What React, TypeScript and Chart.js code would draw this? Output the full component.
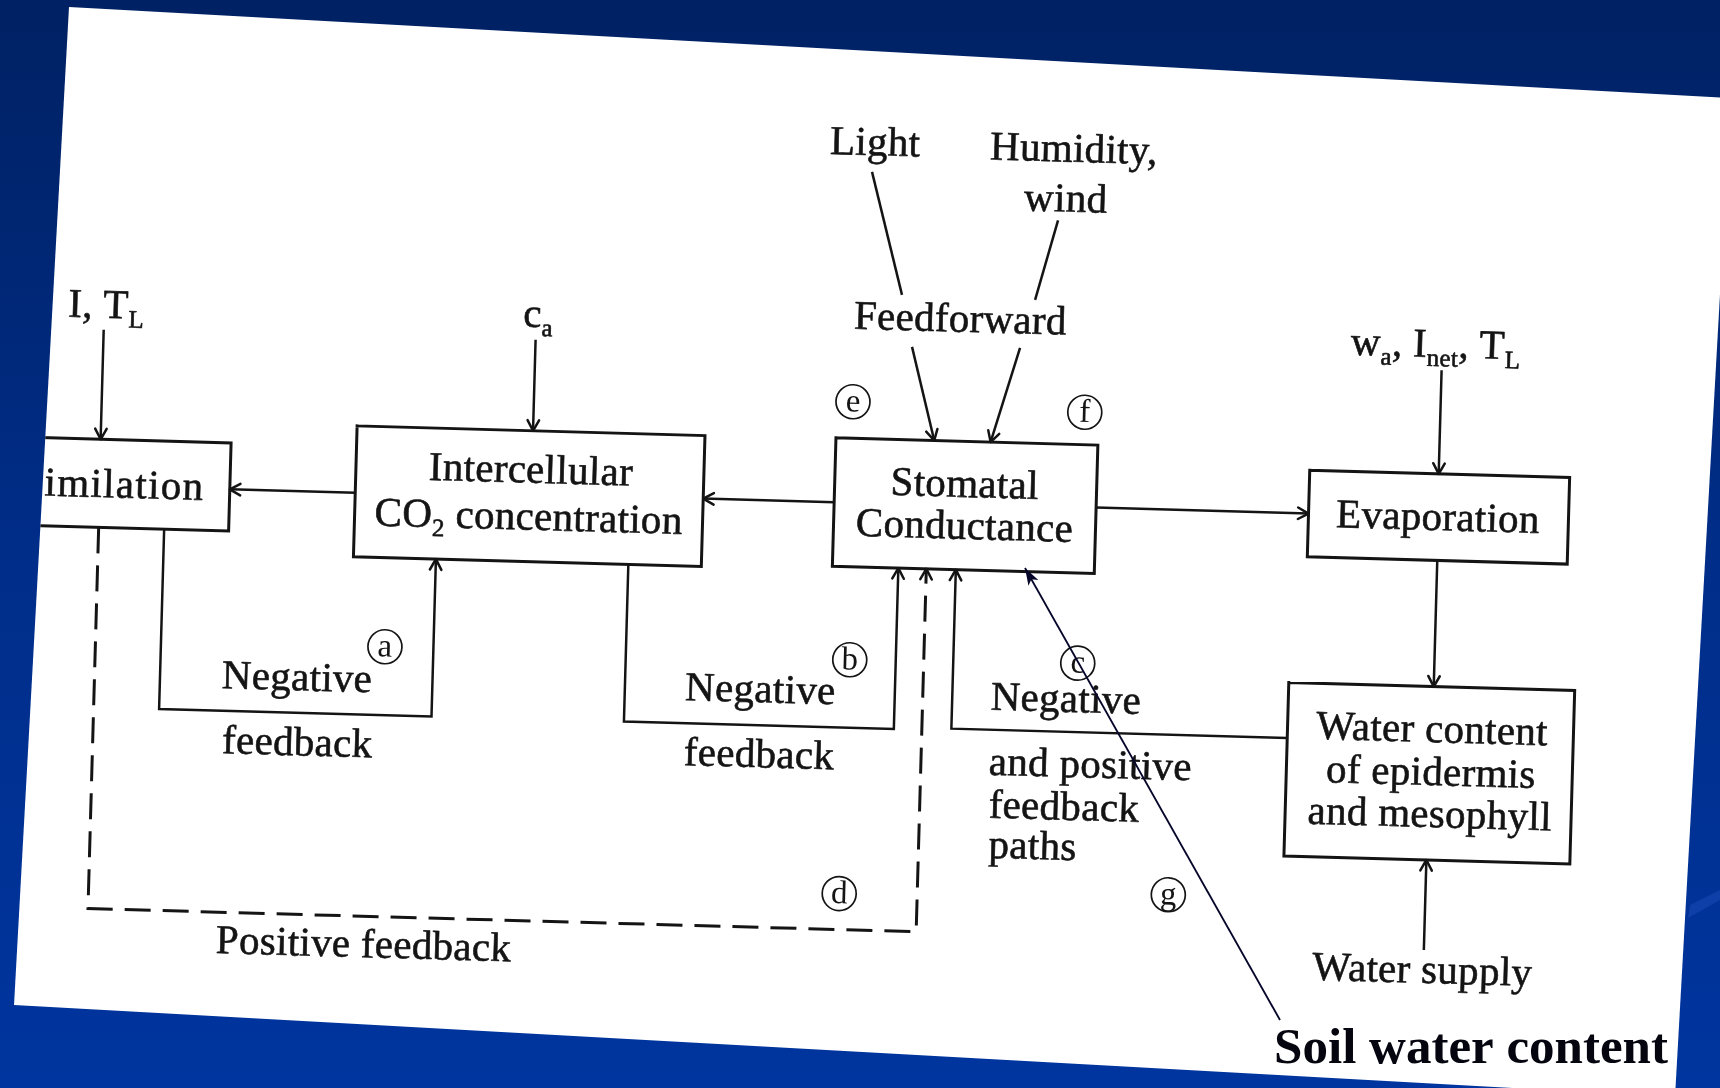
import React, { useEffect, useRef } from "react";
import { Chart, registerables } from "chart.js";

Chart.register(...registerables);

// ---------- DATA (diagram units, unrotated scan frame) ----------
const boxNames = ["Assimilation", "Intercellular", "Stomatal", "Evaporation", "WaterContent"];
const boxLeft = [-80, 354, 833, 1307.5, 1292.5];
const boxRight = [228.5, 702, 1095, 1567.5, 1578.5];
const boxTop = [460.6, 440, 438.5, 457.7, 670.5];
const boxBottom = [548.7, 571, 567, 544.3, 844];

const linkNames = [
  "I,TL->Assimilation", "ca->Intercellular", "Intercellular->Assimilation", "Stomatal->Intercellular",
  "Stomatal->Evaporation", "inputs->Evaporation", "Evaporation->Water", "WaterSupply->Water",
  "loop a", "loop b", "loop c", "loop d", "Light", "Humidity", "Feedforward 1", "Feedforward 2",
];
const linkX = [
  [98, 98], [530, 530], [354, 228.5], [833, 702],
  [1095, 1307.5], [1436.5, 1436.5], [1437.5, 1437.5], [1435, 1435],
  [164, 164, 436.5, 436.5], [629, 629, 899, 899], [1292.5, 956.5, 956.5], [98.5, 98.5, 927, 927],
  [861.6, 895], [1048.9, 1028.2], [906.5, 931.3], [1014.5, 987.7],
];
const linkY = [
  [351, 460.6], [349, 440], [507, 507], [503, 503],
  [501, 501], [354, 457.7], [544.3, 670.5], [934, 844],
  [548.7, 728.5, 728.5, 571], [571, 728, 728, 567], [726, 726, 567], [548.7, 930, 930, 567],
  [171.7, 293.8], [215, 295.1], [345.5, 438.5], [343.5, 438.5],
];
const linkArrow = [true, true, true, true, true, true, true, true, true, true, true, true, false, false, true, true];
const linkDashed = [false, false, false, false, false, false, false, false, false, false, false, true, false, false, false, false];

const circleLetters = ["a", "b", "c", "d", "e", "f", "g"];
const circleX = [388, 853, 1081, 849, 849, 1081, 1178];
const circleY = [660, 660, 657, 894, 402, 406, 886];

const labelTexts = [
  "Assimilation", "Intercellular", "CO_{2} concentration", "Stomatal", "Conductance", "Evaporation",
  "Water content", "of epidermis", "and mesophyll", "I, T_{L}", "c_{a}", "Light", "Humidity,", "wind",
  "Feedforward", "w_{a}, I_{net}, T_{L}", "Water supply",
  "Negative", "feedback", "Negative", "feedback",
  "Negative", "and positive", "feedback", "paths", "Positive feedback",
];
const labelX = [
  203, 529, 528, 963, 964, 1437,
  1437, 1437, 1437, 62, 517, 864, 979, 1056,
  954, 1345, 1434,
  301, 303, 764.5, 765,
  995, 995, 996, 997, 375,
];
const labelY = [
  518.4, 492, 539, 494, 536, 514,
  726, 769, 811, 339, 336, 155, 156, 206,
  329, 341, 967,
  706, 771, 705, 770,
  706, 771, 814, 854, 971,
];
const labelAlign = [
  "right", "center", "center", "center", "center", "center",
  "center", "center", "center", "left", "left", "center", "left", "center",
  "center", "left", "center",
  "center", "center", "center", "center",
  "left", "left", "left", "left", "center",
];
const labelSpacing = [
  1.3, 0.3, 0.3, 0.3, 0.3, 0.3,
  0.3, 0.3, 0.3, 0.3, 0.3, 0.3, 0.3, 0.3,
  0.3, 0.3, 0.3,
  0.3, 0.3, 0.3, 0.3,
  0.3, 0.3, 0.3, 0.3, 0.3,
];

// page (screen) frame
const paperX = [69, 1731, 1675, 14];
const paperY = [7, 98, 1097, 1005];
const scanRotation = 0.028; // radians
const rotCenterX = 860;
const rotCenterY = 544;

// overlay annotation (screen frame)
const soilLabel = "Soil water content";
const soilLabelX = 1471;
const soilLabelY = 1063;
const soilArrowX = [1280, 1025];
const soilArrowY = [1020, 568];

// ---------- helpers ----------
const SCAN_FONT = '"Liberation Serif", "Times New Roman", serif';
const INK = "#141414";

function parseRich(s: string) {
  const parts: { t: string; sub: boolean }[] = [];
  const re = /_\{([^}]*)\}/g;
  let last = 0;
  let m: RegExpExecArray | null;
  while ((m = re.exec(s))) {
    if (m.index > last) parts.push({ t: s.slice(last, m.index), sub: false });
    parts.push({ t: m[1], sub: true });
    last = re.lastIndex;
  }
  if (last < s.length) parts.push({ t: s.slice(last), sub: false });
  return parts;
}

function drawRich(
  ctx: CanvasRenderingContext2D,
  s: string,
  x: number,
  y: number,
  align: string,
  size: number,
  spacing: number
) {
  const parts = parseRich(s);
  const fontFor = (sub: boolean) => `${sub ? Math.round(size * 0.62) : size}px ${SCAN_FONT}`;
  (ctx as any).letterSpacing = `${spacing}px`;
  const widths = parts.map((p) => {
    ctx.font = fontFor(p.sub);
    return ctx.measureText(p.t).width;
  });
  const total = widths.reduce((a, b) => a + b, 0);
  let cur = align === "center" ? x - total / 2 : align === "right" ? x - total : x;
  ctx.textAlign = "left";
  ctx.textBaseline = "alphabetic";
  ctx.lineWidth = 0.6;
  ctx.lineJoin = "round";
  parts.forEach((p, i) => {
    ctx.font = fontFor(p.sub);
    const yy = p.sub ? y + size * 0.22 : y;
    ctx.fillText(p.t, cur, yy);
    ctx.strokeText(p.t, cur, yy);
    cur += widths[i];
  });
  (ctx as any).letterSpacing = "0px";
}

function openArrow(ctx: CanvasRenderingContext2D, x0: number, y0: number, x1: number, y1: number) {
  const a = Math.atan2(y1 - y0, x1 - x0);
  const len = 12;
  const half = 0.5;
  ctx.beginPath();
  ctx.moveTo(x1 - len * Math.cos(a - half), y1 - len * Math.sin(a - half));
  ctx.lineTo(x1, y1);
  ctx.lineTo(x1 - len * Math.cos(a + half), y1 - len * Math.sin(a + half));
  ctx.stroke();
}

const diagramPlugin = {
  id: "diagram",
  beforeDraw(chart: any) {
    const { ctx } = chart;
    const xs = chart.scales.x;
    const ys = chart.scales.y;
    ctx.save();
    const g = ctx.createLinearGradient(0, 0, 0, chart.height);
    g.addColorStop(0, "#002163");
    g.addColorStop(0.5, "#002d88");
    g.addColorStop(1, "#00359f");
    ctx.fillStyle = g;
    ctx.fillRect(0, 0, chart.width, chart.height);
    // subtle lighter streak on the right
    ctx.fillStyle = "rgba(40,90,200,0.35)";
    ctx.beginPath();
    ctx.moveTo(xs.getPixelForValue(1690), ys.getPixelForValue(905));
    ctx.lineTo(xs.getPixelForValue(1720), ys.getPixelForValue(890));
    ctx.lineTo(xs.getPixelForValue(1720), ys.getPixelForValue(900));
    ctx.lineTo(xs.getPixelForValue(1688), ys.getPixelForValue(918));
    ctx.closePath();
    ctx.fill();
    // paper
    ctx.beginPath();
    paperX.forEach((px, i) => {
      const X = xs.getPixelForValue(px);
      const Y = ys.getPixelForValue(paperY[i]);
      if (i === 0) ctx.moveTo(X, Y);
      else ctx.lineTo(X, Y);
    });
    ctx.closePath();
    ctx.fillStyle = "#ffffff";
    ctx.fill();
    ctx.restore();
  },
  beforeDatasetsDraw(chart: any) {
    const { ctx } = chart;
    const xs = chart.scales.x;
    const ys = chart.scales.y;
    ctx.save();
    ctx.beginPath();
    paperX.forEach((px, i) => {
      const X = xs.getPixelForValue(px);
      const Y = ys.getPixelForValue(paperY[i]);
      if (i === 0) ctx.moveTo(X, Y);
      else ctx.lineTo(X, Y);
    });
    ctx.closePath();
    ctx.clip();
    const cx = xs.getPixelForValue(rotCenterX);
    const cy = ys.getPixelForValue(rotCenterY);
    ctx.translate(cx, cy);
    ctx.rotate(scanRotation);
    ctx.translate(-cx, -cy);
  },
  afterDatasetsDraw(chart: any) {
    const { ctx } = chart;
    const xs = chart.scales.x;
    const ys = chart.scales.y;
    const px = (v: number) => xs.getPixelForValue(v);
    const py = (v: number) => ys.getPixelForValue(v);
    // arrowheads
    ctx.strokeStyle = INK;
    ctx.lineWidth = 2.5;
    ctx.setLineDash([]);
    ctx.lineCap = "round";
    ctx.lineJoin = "round";
    linkX.forEach((xsArr, i) => {
      if (!linkArrow[i]) return;
      const n = xsArr.length;
      openArrow(ctx, px(xsArr[n - 2]), py(linkY[i][n - 2]), px(xsArr[n - 1]), py(linkY[i][n - 1]));
    });
    // circled letters
    circleLetters.forEach((c, i) => {
      const X = px(circleX[i]);
      const Y = py(circleY[i]);
      ctx.strokeStyle = INK;
      ctx.lineWidth = 1.7;
      ctx.beginPath();
      ctx.arc(X, Y, 17, 0, Math.PI * 2);
      ctx.stroke();
      ctx.fillStyle = INK;
      ctx.font = `33px ${SCAN_FONT}`;
      ctx.textAlign = "center";
      ctx.textBaseline = "middle";
      ctx.fillText(c, X, Y + 1);
    });
    // labels
    ctx.fillStyle = INK;
    ctx.strokeStyle = INK;
    labelTexts.forEach((t, i) => {
      drawRich(ctx, t, px(labelX[i]), py(labelY[i]), labelAlign[i], 41, labelSpacing[i]);
    });
    ctx.restore();

    // overlay annotation (not part of the scan)
    ctx.save();
    const x0 = px(soilArrowX[0]);
    const y0 = py(soilArrowY[0]);
    const x1 = px(soilArrowX[1]);
    const y1 = py(soilArrowY[1]);
    ctx.strokeStyle = "#06062a";
    ctx.fillStyle = "#06062a";
    ctx.lineWidth = 1.8;
    ctx.beginPath();
    ctx.moveTo(x0, y0);
    ctx.lineTo(x1, y1);
    ctx.stroke();
    const a = Math.atan2(y1 - y0, x1 - x0);
    ctx.beginPath();
    ctx.moveTo(x1, y1);
    ctx.lineTo(x1 - 18 * Math.cos(a - 0.32), y1 - 18 * Math.sin(a - 0.32));
    ctx.lineTo(x1 - 13 * Math.cos(a), y1 - 13 * Math.sin(a));
    ctx.lineTo(x1 - 18 * Math.cos(a + 0.32), y1 - 18 * Math.sin(a + 0.32));
    ctx.closePath();
    ctx.fill();
    ctx.fillStyle = "#05050f";
    ctx.font = `bold 51px ${SCAN_FONT}`;
    ctx.textAlign = "center";
    ctx.textBaseline = "alphabetic";
    ctx.fillText(soilLabel, px(soilLabelX), py(soilLabelY));
    ctx.restore();
  },
};

export default function App() {
  const canvasRef = useRef<HTMLCanvasElement | null>(null);

  useEffect(() => {
    document.body.style.margin = "0";
    const canvas = canvasRef.current;
    if (!canvas) return;

    const boxDatasets = boxNames.map((name, i) => ({
      label: name,
      data: [
        { x: boxLeft[i], y: boxTop[i] },
        { x: boxRight[i], y: boxTop[i] },
        { x: boxRight[i], y: boxBottom[i] },
        { x: boxLeft[i], y: boxBottom[i] },
        { x: boxLeft[i], y: boxTop[i] },
      ],
      showLine: true,
      borderColor: INK,
      borderWidth: 3,
      pointRadius: 0,
      fill: false,
      tension: 0,
      clip: false,
      borderJoinStyle: "miter",
      borderCapStyle: "square",
    }));

    const linkDatasets = linkNames.map((name, i) => ({
      label: name,
      data: linkX[i].map((x, j) => ({ x, y: linkY[i][j] })),
      showLine: true,
      borderColor: INK,
      borderWidth: linkDashed[i] ? 3 : 2.5,
      borderDash: linkDashed[i] ? [26, 12] : [],
      pointRadius: 0,
      fill: false,
      tension: 0,
      clip: false,
      borderJoinStyle: "miter",
      borderCapStyle: "butt",
    }));

    const chart = new Chart(canvas, {
      type: "scatter",
      data: { datasets: [...boxDatasets, ...linkDatasets] as any },
      options: {
        animation: false,
        responsive: false,
        devicePixelRatio: 1,
        events: [],
        layout: { padding: 0 },
        scales: {
          x: { type: "linear", min: 0, max: 1720, display: false },
          y: { type: "linear", min: 0, max: 1088, reverse: true, display: false },
        },
        plugins: {
          legend: { display: false },
          tooltip: { enabled: false },
          title: { display: false },
        },
      },
      plugins: [diagramPlugin as any],
    });
    return () => chart.destroy();
  }, []);

  return (
    <div style={{ position: "fixed", left: 0, top: 0, width: 1720, height: 1088 }}>
      <canvas ref={canvasRef} width={1720} height={1088} style={{ display: "block" }} />
    </div>
  );
}
